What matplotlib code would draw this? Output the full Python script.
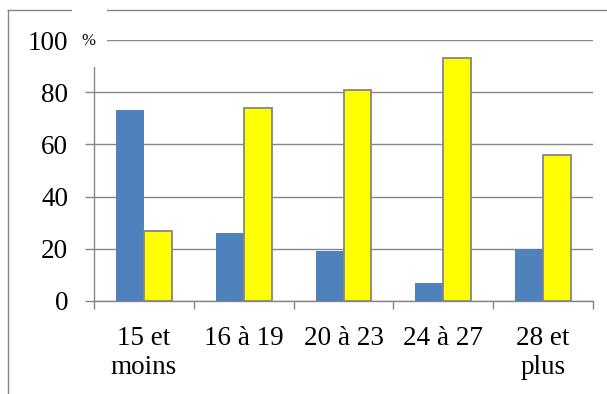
import numpy as np
import matplotlib
matplotlib.use("Agg")
import matplotlib.pyplot as plt
from matplotlib.patches import Rectangle
from matplotlib.lines import Line2D

# age groups and shares (%)
categories = ["15 et\nmoins", "16 à 19", "20 à 23", "24 à 27", "28 et\nplus"]
blue_vals = [73, 26, 19, 7, 20]
yellow_vals = [27, 74, 81, 93, 56]
yticks = [0, 20, 40, 60, 80, 100]

W, H = 607, 394
grey = "#868686"
plt.rcParams["font.family"] = ["Liberation Serif", "DejaVu Serif"]

fig = plt.figure(figsize=(W / 100, H / 100), dpi=100)
ax = fig.add_axes([94 / W, 1 - 301 / H, (593 - 94) / W, (301 - 40) / H])

x = np.arange(len(categories))
bw = 0.28
ax.bar(x - bw / 2, blue_vals, bw, color="#4F81BD", zorder=3)
ax.bar(x + bw / 2, yellow_vals, bw, color="#FFFF00", edgecolor=grey,
       linewidth=1.3, zorder=3)

ax.set_xlim(-0.5, len(categories) - 0.5)
ax.set_ylim(0, 100)
ax.set_yticks(yticks)
ax.set_yticklabels([str(v) for v in yticks], fontsize=19.5)
ax.yaxis.grid(True, color=grey, linewidth=1.0, zorder=0)

ax.set_xticks(x)
ax.set_xticklabels(categories, fontsize=19.5, linespacing=1.2)
ax.set_xticks(np.arange(len(categories) + 1) - 0.5, minor=True)
ax.tick_params(axis="x", which="major", length=0, pad=18)
ax.tick_params(axis="x", which="minor", length=5.8, color=grey, width=1.0)
ax.tick_params(axis="y", length=6.5, color=grey, width=1.0, pad=12)

for s in ["top", "right"]:
    ax.spines[s].set_visible(False)
for s in ["left", "bottom"]:
    ax.spines[s].set_color(grey)
    ax.spines[s].set_linewidth(1.0)

# outer chart frame (left and top edges)
fig.add_artist(Line2D([8 / W, 8 / W], [0, 1 - 10 / H], color=grey, lw=1.0,
                      transform=fig.transFigure))
fig.add_artist(Line2D([8 / W, 1], [1 - 10 / H, 1 - 10 / H], color=grey, lw=1.0,
                      transform=fig.transFigure))

# unit label box sitting over the top of the axis
fig.add_artist(Rectangle((72 / W, 1 - 67 / H), 35 / W, 58 / H,
                         facecolor="white", edgecolor="none",
                         transform=fig.transFigure, zorder=10))
fig.text(88 / W, 1 - 41 / H, "%", fontsize=12, ha="center", va="center",
         zorder=11)

fig.savefig("out.png", dpi=100)
